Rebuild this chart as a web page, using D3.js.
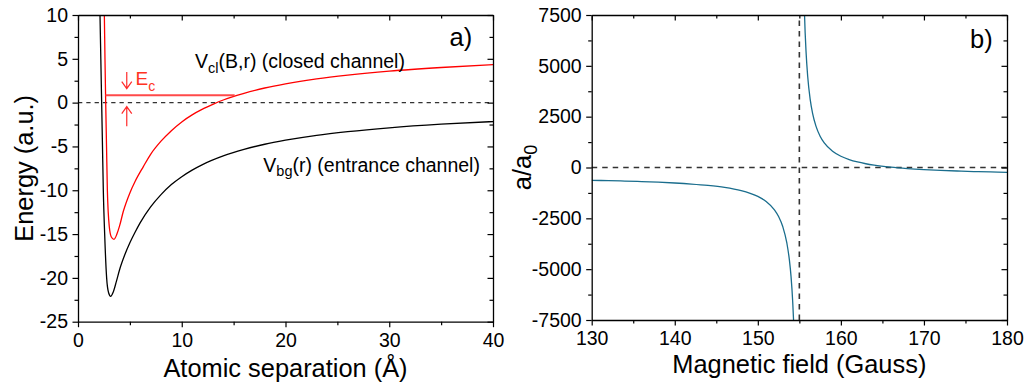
<!DOCTYPE html>
<html>
<head>
<meta charset="utf-8">
<script src="https://cdn.jsdelivr.net/npm/d3@7"></script>
<style>
  html, body { margin: 0; padding: 0; background: #fff; }
  svg { display: block; font-family: "Liberation Sans", Arial, Helvetica, sans-serif; }
</style>
</head>
<body>
<script>
// ---- Panel a): interatomic potentials ----
const separation = [0, 40];
const energyRange = [-25, 10];
const sepTicks = [0, 10, 20, 30, 40];
const sepMinor = [5, 15, 25, 35];
const energyTicks = [-25, -20, -15, -10, -5, 0, 5, 10];
const energyMinor = [-22.5, -17.5, -12.5, -7.5, -2.5, 2.5, 7.5];

// entrance channel V_bg(r)
const bgR = [2.0, 2.12, 2.2, 2.28, 2.36, 2.44, 2.57, 2.76, 2.95, 3.15, 3.4, 3.7, 4.0, 4.5, 5.0, 5.5, 6.0, 7.0, 8.0, 9.0, 10, 11, 12, 14, 16, 18, 20, 23, 26, 30, 35, 40];
const bgE = [18, 10, 5, 0, -5, -10, -15, -20, -21.7, -22.1, -21.6, -20.4, -19.1, -17.4, -16.0, -14.8, -13.7, -11.9, -10.5, -9.35, -8.45, -7.7, -7.07, -6.08, -5.34, -4.75, -4.29, -3.73, -3.31, -2.87, -2.46, -2.16];

// closed channel V_cl(B,r)
const clR = [2.45, 2.54, 2.6, 2.67, 2.75, 2.83, 3.02, 3.2, 3.47, 3.75, 4.0, 4.37, 5.0, 5.5, 6.3, 7.0, 8.0, 9.0, 10, 11, 12, 13, 14, 16, 18, 20, 23, 26, 30, 35, 40];
const clE = [16, 10, 5, 0, -5, -10, -14.2, -15.3, -15.6, -15.0, -14.1, -12.4, -10.3, -9.0, -7.3, -5.9, -4.4, -3.2, -2.2, -1.4, -0.75, -0.2, 0.3, 1.06, 1.67, 2.15, 2.72, 3.15, 3.6, 4.01, 4.33];

// closed-channel bound state energy and the span of its marker line
const boundE = 0.85;
const boundSpan = [2.66, 15.1];

// ---- Panel b): scattering length vs magnetic field ----
const fieldRange = [130, 180];
const lengthRange = [-7500, 7500];
const fieldTicks = [130, 140, 150, 160, 170, 180];
const fieldMinor = [135, 145, 155, 165, 175];
const lengthTicks = [-7500, -5000, -2500, 0, 2500, 5000, 7500];
const lengthMinor = [-6250, -3750, -1250, 1250, 3750, 6250];
const resonanceB = 155;

// below resonance
const lowB = [130, 132, 134, 136, 138, 140, 142, 144, 146, 148, 149, 150, 151, 152, 152.5, 153, 153.5, 153.8, 154, 154.2, 154.3, 154.35];
const lowA = [-630, -648, -668, -693, -723, -762, -813, -882, -981, -1138, -1256, -1420, -1667, -2078, -2407, -2901, -3724, -4546, -5369, -6603, -7484, -8027];
// above resonance
const highB = [155.6, 155.7, 155.8, 156, 156.3, 156.6, 157, 157.5, 158, 159, 160, 161, 162, 163, 164, 166, 168, 170, 172, 174, 176, 178, 180];
const highA = [7794, 6618, 5737, 4503, 3364, 2652, 2035, 1541, 1212, 801, 554, 390, 272, 184, 115, 16, -53, -104, -143, -173, -198, -218, -236];

const W = 1026, H = 385;
const svg = d3.select("body").append("svg").attr("width", W).attr("height", H);

const FONT = 19.5;
const TITLE = 25.4;
const fmt = d => String(d);

function frame(id, x, y, majX, minX, majY, minY) {
  const g = svg.append("g");
  const [x0, x1] = x.range();
  const [y0, y1] = y.range(); // y0 bottom, y1 top

  g.append("clipPath").attr("id", id)
    .append("rect").attr("x", x0).attr("y", y1).attr("width", x1 - x0).attr("height", y0 - y1);

  const style = sel => {
    sel.selectAll("path.domain").attr("stroke", "#000").attr("stroke-width", 1.3);
    sel.selectAll(".tick line").attr("stroke", "#000").attr("stroke-width", 1.2);
    sel.selectAll(".tick text").attr("font-size", FONT).attr("fill", "#000")
      .attr("font-family", "Liberation Sans, Arial, sans-serif");
  };
  // bottom
  g.append("g").attr("transform", `translate(0,${y0})`)
    .call(d3.axisBottom(x).tickValues(minX).tickSize(3.5).tickFormat("")).call(style)
    .select(".domain").remove();
  g.append("g").attr("transform", `translate(0,${y0})`)
    .call(d3.axisBottom(x).tickValues(majX).tickSize(5.5).tickSizeOuter(0).tickPadding(5.5).tickFormat(fmt)).call(style);
  // top (mirror, inward)
  g.append("g").attr("transform", `translate(0,${y1})`)
    .call(d3.axisTop(x).tickValues(minX).tickSize(-3.5).tickFormat("")).call(style)
    .select(".domain").remove();
  g.append("g").attr("transform", `translate(0,${y1})`)
    .call(d3.axisTop(x).tickValues(majX).tickSize(-5.5).tickSizeOuter(0).tickFormat("")).call(style);
  // left
  g.append("g").attr("transform", `translate(${x0},0)`)
    .call(d3.axisLeft(y).tickValues(minY).tickSize(3.5).tickFormat("")).call(style)
    .select(".domain").remove();
  g.append("g").attr("transform", `translate(${x0},0)`)
    .call(d3.axisLeft(y).tickValues(majY).tickSize(5.5).tickSizeOuter(0).tickPadding(4.5).tickFormat(fmt)).call(style);
  // right (mirror, inward)
  g.append("g").attr("transform", `translate(${x1},0)`)
    .call(d3.axisRight(y).tickValues(minY).tickSize(-3.5).tickFormat("")).call(style)
    .select(".domain").remove();
  g.append("g").attr("transform", `translate(${x1},0)`)
    .call(d3.axisRight(y).tickValues(majY).tickSize(-5.5).tickSizeOuter(0).tickFormat("")).call(style);
  return g;
}

// ===== panel a =====
const xa = d3.scaleLinear().domain(separation).range([78, 493]);
const ya = d3.scaleLinear().domain(energyRange).range([321.7, 15]);

const pa = svg.append("g");
// zero-energy reference
pa.append("line")
  .attr("x1", xa(separation[0])).attr("x2", xa(separation[1]))
  .attr("y1", ya(0)).attr("y2", ya(0))
  .attr("stroke", "#333").attr("stroke-width", 1.2).attr("stroke-dasharray", "4.3,4");

const lineA = d3.line().x(d => xa(d[0])).y(d => ya(d[1])).curve(d3.curveMonotoneX);
const curvesA = pa.append("g").attr("clip-path", "url(#clipA)");
curvesA.append("path").datum(d3.zip(bgR, bgE))
  .attr("d", lineA).attr("fill", "none").attr("stroke", "#000").attr("stroke-width", 1.3);
curvesA.append("path").datum(d3.zip(clR, clE))
  .attr("d", lineA).attr("fill", "none").attr("stroke", "#ff0000").attr("stroke-width", 1.3);

// bound state level
pa.append("line")
  .attr("x1", xa(boundSpan[0])).attr("x2", xa(boundSpan[1]))
  .attr("y1", ya(boundE)).attr("y2", ya(boundE))
  .attr("stroke", "#ff4a4a").attr("stroke-width", 2);

// energy-gap arrows
const arrowR = 4.7;
function arrow(fromE, toE) {
  const xs = xa(arrowR), yf = ya(fromE), yt = ya(toE);
  const dir = Math.sign(yt - yf);
  pa.append("path")
    .attr("d", `M${xs},${yf}L${xs},${yt}M${xs - 5},${yt - dir * 7}L${xs},${yt}L${xs + 5},${yt - dir * 7}`)
    .attr("fill", "none").attr("stroke", "#ff2a2a").attr("stroke-width", 1.2);
}
arrow(3.5, 1.6);
arrow(-2.7, -0.45);

const ecLabel = pa.append("text").attr("x", xa(5.55)).attr("y", ya(2.0))
  .attr("fill", "#ff3322").attr("font-size", 19);
ecLabel.append("tspan").text("E");
ecLabel.append("tspan").attr("dy", 5.5).attr("font-size", 14).text("c");

frame("clipA", xa, ya, sepTicks, sepMinor, energyTicks, energyMinor);

// curve labels
const vcl = pa.append("text").attr("x", 195).attr("y", 68.3).attr("font-size", FONT).attr("fill", "#000");
vcl.append("tspan").text("V");
vcl.append("tspan").attr("dy", 4.4).attr("font-size", 14.5).text("cl");
vcl.append("tspan").attr("dy", -4.4).text("(B,r) (closed channel)");

const vbg = pa.append("text").attr("x", 263.3).attr("y", 171.7).attr("font-size", FONT).attr("fill", "#000");
vbg.append("tspan").text("V");
vbg.append("tspan").attr("dy", 4.4).attr("font-size", 14.5).text("bg");
vbg.append("tspan").attr("dy", -4.4).text("(r) (entrance channel)");

pa.append("text").attr("x", 449.5).attr("y", 46).attr("font-size", 25.5).text("a)");

// axis titles
svg.append("text").attr("x", (xa.range()[0] + xa.range()[1]) / 2).attr("y", 377)
  .attr("text-anchor", "middle").attr("font-size", TITLE).text("Atomic separation (Å)");
svg.append("text").attr("transform", `translate(33,${(ya.range()[0] + ya.range()[1]) / 2}) rotate(-90)`)
  .attr("text-anchor", "middle").attr("font-size", TITLE).text("Energy (a.u.)");

// ===== panel b =====
const xb = d3.scaleLinear().domain(fieldRange).range([591.7, 1007]);
const yb = d3.scaleLinear().domain(lengthRange).range([320, 15]);

const pb = svg.append("g");
pb.append("line")
  .attr("x1", xb(fieldRange[0])).attr("x2", xb(fieldRange[1]))
  .attr("y1", yb(0)).attr("y2", yb(0))
  .attr("stroke", "#333").attr("stroke-width", 1.4).attr("stroke-dasharray", "5.5,5");
pb.append("line")
  .attr("x1", xb(resonanceB)).attr("x2", xb(resonanceB))
  .attr("y1", yb(lengthRange[0])).attr("y2", yb(lengthRange[1]))
  .attr("stroke", "#333").attr("stroke-width", 1.6).attr("stroke-dasharray", "5.5,5");

const lineB = d3.line().x(d => xb(d[0])).y(d => yb(d[1])).curve(d3.curveMonotoneX);
const curvesB = pb.append("g").attr("clip-path", "url(#clipB)");
curvesB.append("path").datum(d3.zip(lowB, lowA))
  .attr("d", lineB).attr("fill", "none").attr("stroke", "#1a6d8d").attr("stroke-width", 1.3);
curvesB.append("path").datum(d3.zip(highB, highA))
  .attr("d", lineB).attr("fill", "none").attr("stroke", "#1a6d8d").attr("stroke-width", 1.3);

frame("clipB", xb, yb, fieldTicks, fieldMinor, lengthTicks, lengthMinor);

pb.append("text").attr("x", 970).attr("y", 48).attr("font-size", 25.5).text("b)");

svg.append("text").attr("x", (xb.range()[0] + xb.range()[1]) / 2).attr("y", 373)
  .attr("text-anchor", "middle").attr("font-size", TITLE).text("Magnetic field (Gauss)");
const yt = svg.append("text").attr("transform", `translate(531,${(yb.range()[0] + yb.range()[1]) / 2}) rotate(-90)`)
  .attr("text-anchor", "middle").attr("font-size", TITLE);
yt.append("tspan").text("a/a");
yt.append("tspan").attr("dy", 5.5).attr("font-size", 18).text("0");
</script>
</body>
</html>
